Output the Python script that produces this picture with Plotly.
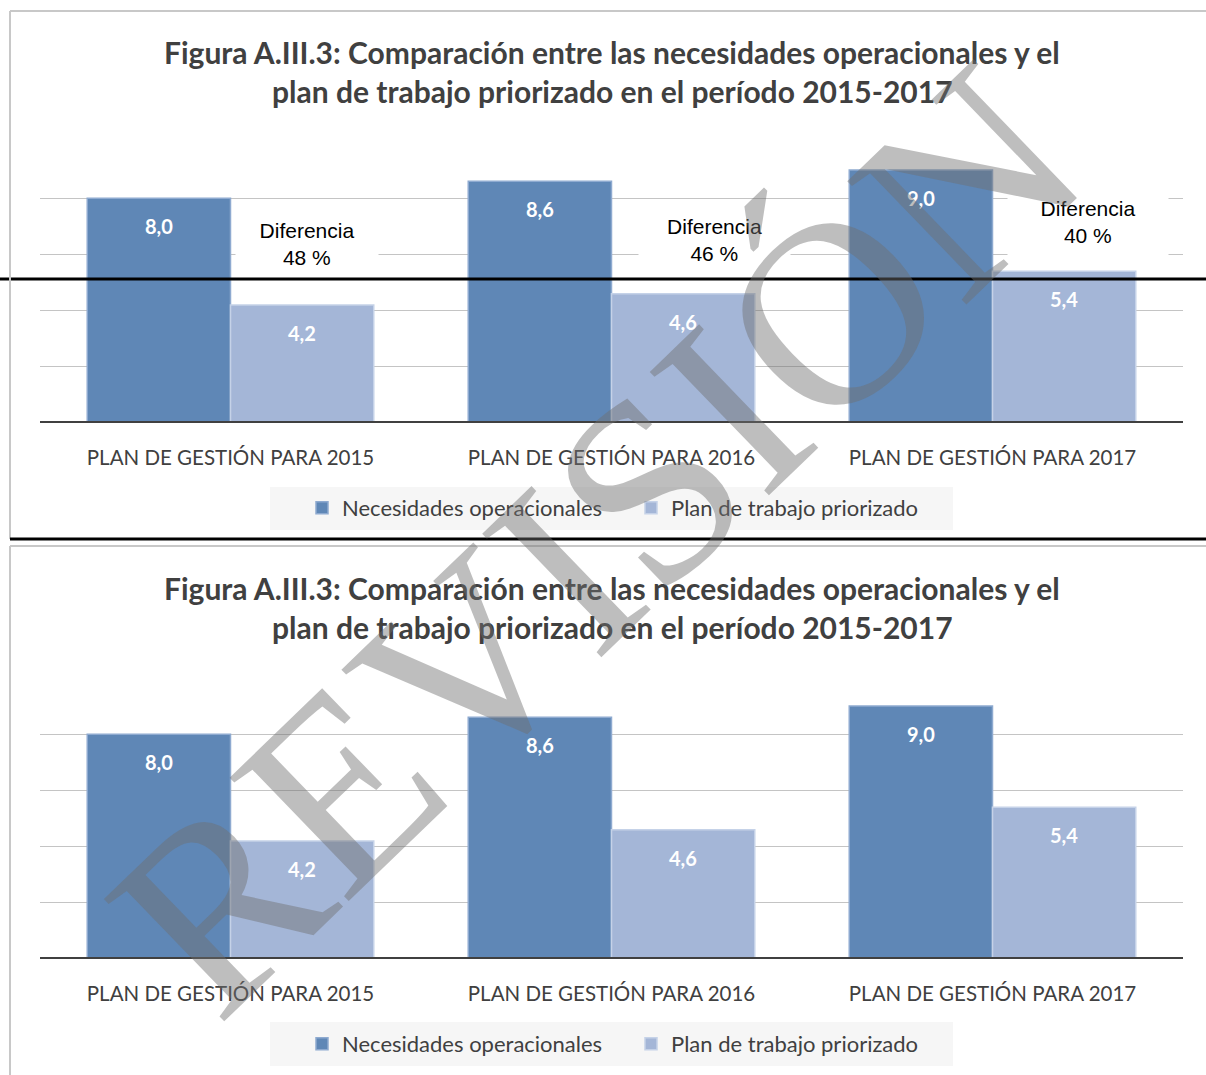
import plotly.graph_objects as go

# ---------------- data ----------------
categories = ["PLAN DE GESTIÓN PARA 2015", "PLAN DE GESTIÓN PARA 2016", "PLAN DE GESTIÓN PARA 2017"]
necesidades = [8.0, 8.6, 9.0]
plan_trabajo = [4.2, 4.6, 5.4]
diferencia_pct = [48, 46, 40]
series_names = ["Necesidades operacionales", "Plan de trabajo priorizado"]
title_lines = ["Figura A.III.3: Comparación entre las necesidades operacionales y el",
               "plan de trabajo priorizado en el período 2015-2017"]

W, H = 1206, 1075
DARK = "#5f87b6"
LIGHT = "#a4b6d7"
TXT = "#404040"
FONT = "Lato"


def px(y):
    return 1 - y / H


def fmt(v):
    return f"{v:.1f}".replace(".", ",")


fig = go.Figure()

charts = [
    dict(t1=52, t2=91, top=142, zero=423, leg=508, lb=(487, 530), xa="x", ya="y", legend="legend"),
    dict(t1=588, t2=627, top=678, zero=959, leg=1044, lb=(1022, 1066), xa="x2", ya="y2", legend="legend2"),
]

x_dom = [40 / W, 1183 / W]
shapes = []
annotations = []

for i, c in enumerate(charts):
    fig.add_trace(go.Bar(x=categories, y=necesidades, name=series_names[0], marker_color=DARK,
                         marker_line=dict(color="#8eaad0", width=1.5),
                         xaxis=c["xa"], yaxis=c["ya"], legend=c["legend"]))
    fig.add_trace(go.Bar(x=categories, y=plan_trabajo, name=series_names[1], marker_color=LIGHT,
                         marker_line=dict(color="#c5d2e8", width=1.5),
                         xaxis=c["xa"], yaxis=c["ya"], legend=c["legend"]))

    for ln, yy in zip(title_lines, [c["t1"], c["t2"]]):
        annotations.append(dict(text=f"<b>{ln}</b>", xref="paper", yref="paper", x=612 / W, y=px(yy),
                                xanchor="center", yanchor="middle", showarrow=False,
                                font=dict(family=FONT, size=30, color=TXT)))
    for cat, a, b in zip(categories, necesidades, plan_trabajo):
        for val, sh in ((a, -71.5), (b, 71.5)):
            annotations.append(dict(text=f"<b>{fmt(val)}</b>", x=cat, y=val, xref=c["xa"], yref=c["ya"],
                                    xshift=sh, yshift=-28, showarrow=False, yanchor="middle",
                                    font=dict(family=FONT, size=20, color="white")))
    shapes.append(dict(type="line", xref=f"{c['xa']} domain", yref=c["ya"], x0=0, x1=1, y0=0, y1=0,
                       line=dict(color="#404040", width=4), layer="above"))
    shapes.append(dict(type="rect", xref="paper", yref="paper", x0=270 / W, x1=953 / W,
                       y0=px(c["lb"][1]), y1=px(c["lb"][0]), fillcolor="#f6f6f6", line=dict(width=0),
                       layer="below"))

shapes.append(dict(type="line", xref="paper", yref="paper", x0=0, x1=1, y0=px(279), y1=px(279),
                   line=dict(color="black", width=3), layer="above"))
diff_boxes = [(307, 244, 142, 64), (714, 240, 151, 68), (1088, 222, 160, 68)]
for (bx, by, bw, bh), pct in zip(diff_boxes, diferencia_pct):
    annotations.append(dict(text=f"Diferencia<br>{pct} %", xref="paper", yref="paper", x=bx / W, y=px(by),
                            xanchor="center", yanchor="middle", showarrow=False, bgcolor="white",
                            width=bw, height=bh, borderpad=0,
                            font=dict(family="Liberation Sans", size=21, color="black")))

shapes += [
    dict(type="line", xref="paper", yref="paper", x0=10 / W, x1=1, y0=px(11), y1=px(11),
         line=dict(color="#c8c8c8", width=2)),
    dict(type="line", xref="paper", yref="paper", x0=10 / W, x1=10 / W, y0=px(11), y1=px(539),
         line=dict(color="#c8c8c8", width=2)),
    dict(type="line", xref="paper", yref="paper", x0=10 / W, x1=10 / W, y0=px(546), y1=0,
         line=dict(color="#c8c8c8", width=2)),
    dict(type="line", xref="paper", yref="paper", x0=10 / W, x1=1, y0=px(539), y1=px(539),
         line=dict(color="black", width=3), layer="above"),
    dict(type="line", xref="paper", yref="paper", x0=10 / W, x1=1, y0=px(546), y1=px(546),
         line=dict(color="#c8c8c8", width=2), layer="above"),
]

# watermark
annotations.append(dict(text="REVISIÓN", xref="paper", yref="paper", x=596 / W, y=px(540),
                        xanchor="center", yanchor="middle", showarrow=False, textangle=-44,
                        font=dict(family="Liberation Serif", size=262, color="rgba(110,110,110,0.45)")))

axis_common = dict(showline=False, zeroline=False)
xa_common = dict(domain=x_dom, showgrid=False, ticks="outside", ticklen=16, tickcolor="rgba(0,0,0,0)",
                 tickfont=dict(family=FONT, size=20.5, color=TXT), **axis_common)
ya_common = dict(range=[0, 10], dtick=2, showticklabels=False, gridcolor="#c4c4c4", gridwidth=1, **axis_common)
leg_common = dict(orientation="h", x=302 / W, xanchor="left", yanchor="middle", entrywidth=284,
                  bgcolor="rgba(0,0,0,0)", font=dict(family=FONT, size=22, color=TXT))

fig.update_layout(
    width=W, height=H, margin=dict(l=0, r=0, t=0, b=0),
    paper_bgcolor="white", plot_bgcolor="rgba(0,0,0,0)",
    barmode="group", bargap=0.248, bargroupgap=0,
    xaxis=dict(anchor="y", **xa_common),
    yaxis=dict(domain=[px(charts[0]["zero"]), px(charts[0]["top"])], anchor="x", **ya_common),
    xaxis2=dict(anchor="y2", **xa_common),
    yaxis2=dict(domain=[px(charts[1]["zero"]), px(charts[1]["top"])], anchor="x2", **ya_common),
    legend=dict(y=px(charts[0]["leg"]), **leg_common),
    legend2=dict(y=px(charts[1]["leg"]), **leg_common),
    shapes=shapes, annotations=annotations,
)

fig.write_html("out.html", config={"displayModeBar": False},
               post_script="document.body.style.margin='0';document.body.style.overflow='hidden';")
